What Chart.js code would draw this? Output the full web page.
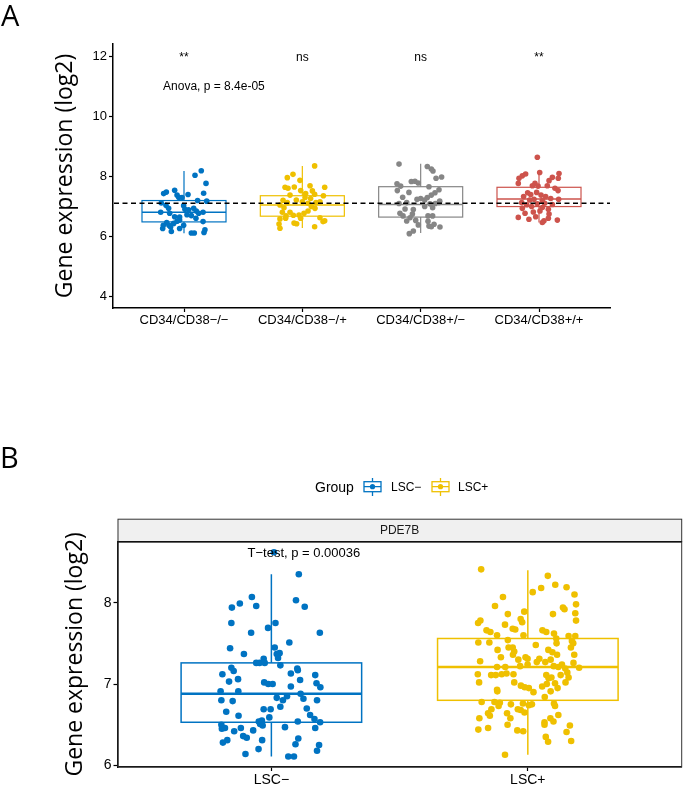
<!DOCTYPE html>
<html><head><meta charset="utf-8">
<script src="https://cdn.jsdelivr.net/npm/chart.js@4.4.1/dist/chart.umd.min.js"></script>
<style>
html,body{margin:0;padding:0;background:#fff;width:685px;height:785px;overflow:hidden}
#ca{position:absolute;left:0;top:0}
#cb{position:absolute;left:0;top:440px}
</style></head><body>
<canvas id="ca" width="685" height="330"></canvas>
<canvas id="cb" width="685" height="345"></canvas>
<script>
// ---------- Panel A data ----------
const categoriesA = ["CD34/CD38\u2212/\u2212","CD34/CD38\u2212/+","CD34/CD38+/\u2212","CD34/CD38+/+"];
const yTicksA = [4,6,8,10,12];
const whiskerLowA = [6.11, 6.29, 6.12, 6.47];
const q1A        = [6.49, 6.68, 6.65, 7.00];
const medianA    = [6.81, 7.05, 7.07, 7.25];
const q3A        = [7.20, 7.36, 7.66, 7.64];
const whiskerHighA = [8.18, 8.35, 8.42, 8.18];
const signifA = ["**","ns","ns","**"];
const anovaText = "Anova, p = 8.4e-05";
const refLineA = 7.11;
// points: [jitter offset (category units), value]
const pointsA1 = [[0.146,8.19],[0.093,8.04],[0.186,7.77],[-0.149,7.48],[-0.172,7.43],[-0.079,7.54],[-0.059,7.38],[-0.045,7.31],[-0.017,7.30],[0.034,7.40],[0.166,7.44],[0.115,7.20],[0.192,7.18],[-0.192,7.12],[-0.152,7.04],[-0.130,6.94],[-0.121,6.78],[-0.197,6.81],[-0.003,7.03],[0.008,6.91],[0.039,6.89],[0.082,6.94],[0.104,6.85],[0.124,6.78],[0.161,6.81],[0.025,6.73],[0.062,6.70],[0.101,6.61],[-0.079,6.66],[-0.037,6.65],[0.161,6.50],[-0.146,6.47],[-0.175,6.38],[-0.127,6.38],[-0.087,6.44],[-0.059,6.51],[-0.180,6.27],[-0.113,6.32],[-0.037,6.55],[-0.107,6.17],[-0.037,6.27],[0.062,6.12],[0.087,6.12],[0.177,6.23],[0.169,6.14],[-0.003,6.38]];
const pointsA2 = [[0.104,8.35],[-0.079,8.07],[-0.127,7.96],[-0.020,7.87],[0.065,7.69],[0.189,7.64],[-0.146,7.64],[-0.121,7.61],[-0.068,7.65],[0.085,7.52],[-0.104,7.38],[0.028,7.43],[-0.014,7.53],[0.104,7.41],[0.070,7.27],[0.178,7.36],[-0.163,7.21],[-0.189,7.05],[-0.127,7.13],[-0.051,7.22],[0.000,7.16],[0.023,7.30],[0.048,7.11],[0.115,7.13],[0.149,7.16],[0.076,7.00],[0.107,6.94],[-0.155,6.96],[-0.169,6.81],[-0.104,6.81],[-0.028,6.72],[0.014,6.78],[0.048,6.85],[-0.138,6.69],[-0.076,6.71],[-0.189,6.59],[-0.141,6.61],[-0.197,6.42],[-0.189,6.28],[-0.070,6.45],[-0.048,6.43],[0.149,6.63],[0.189,6.53],[0.175,6.50],[0.104,6.33],[-0.014,6.61]];
const pointsA3 = [[-0.183,8.41],[0.056,8.33],[0.090,8.25],[0.104,8.18],[0.177,7.98],[0.130,7.94],[-0.079,7.83],[-0.048,7.84],[-0.020,7.78],[-0.200,7.76],[-0.169,7.68],[0.070,7.66],[0.155,7.56],[-0.197,7.53],[-0.099,7.47],[0.121,7.46],[0.090,7.38],[0.056,7.30],[-0.152,7.31],[-0.031,7.24],[0.000,7.27],[0.034,7.22],[0.161,7.18],[-0.183,7.10],[-0.118,7.13],[0.079,7.09],[0.124,7.10],[0.155,7.13],[0.034,7.00],[0.101,6.96],[-0.132,6.92],[-0.062,6.90],[-0.175,6.78],[-0.149,6.69],[-0.070,6.75],[-0.090,6.63],[0.062,6.69],[0.101,6.69],[-0.118,6.52],[-0.042,6.54],[-0.020,6.39],[0.062,6.51],[0.070,6.35],[0.113,6.41],[0.163,6.32],[-0.062,6.19],[-0.096,6.10],[0.090,6.33]];
const pointsA4 = [[-0.014,8.64],[0.006,8.13],[-0.113,8.08],[-0.141,8.02],[-0.169,7.94],[0.169,8.10],[0.113,7.97],[0.163,7.94],[0.085,7.86],[-0.175,7.77],[-0.034,7.77],[-0.056,7.69],[0.070,7.69],[-0.008,7.68],[0.135,7.61],[0.161,7.53],[-0.096,7.46],[-0.070,7.40],[-0.020,7.47],[0.017,7.38],[-0.130,7.33],[0.056,7.33],[0.099,7.27],[0.166,7.24],[-0.079,7.22],[-0.042,7.24],[0.028,7.20],[-0.146,7.13],[-0.104,7.06],[-0.014,7.09],[0.048,7.11],[0.113,7.07],[-0.141,6.94],[-0.062,7.00],[0.028,6.97],[0.079,6.91],[-0.118,6.78],[-0.048,6.82],[0.008,6.85],[0.085,6.75],[-0.175,6.64],[-0.085,6.58],[-0.028,6.66],[0.042,6.53],[0.028,6.47],[0.155,6.55],[0.079,6.61]];

// ---------- Panel B data ----------
const categoriesB = ["LSC\u2212","LSC+"];
const yTicksB = [6,7,8];
const whiskerLowB = [6.11, 6.13];
const q1B        = [6.53, 6.80];
const medianB    = [6.88, 7.21];
const q3B        = [7.26, 7.56];
const whiskerHighB = [8.35, 8.40];
const stripLabel = "PDE7B";
const ttestText = "T\u2212test, p = 0.00036";
const legendTitle = "Group";
const pointsB1 = [[0.107,8.35],[0.010,8.62],[-0.076,8.07],[-0.123,7.99],[-0.154,7.94],[-0.059,7.96],[0.096,8.03],[0.130,7.95],[-0.156,7.75],[-0.013,7.69],[0.016,7.75],[-0.079,7.63],[0.189,7.63],[-0.161,7.44],[0.013,7.45],[0.070,7.51],[-0.107,7.37],[0.021,7.37],[0.032,7.38],[0.026,7.32],[-0.030,7.31],[-0.059,7.26],[-0.046,7.26],[-0.026,7.26],[0.035,7.23],[-0.156,7.20],[-0.147,7.16],[-0.191,7.12],[-0.130,7.06],[-0.165,7.03],[0.101,7.19],[0.103,7.17],[0.076,7.13],[0.171,7.11],[0.112,7.05],[-0.028,7.02],[-0.012,7.00],[0.005,7.00],[0.076,6.97],[0.176,7.01],[0.191,6.96],[-0.198,6.91],[-0.129,6.91],[-0.195,6.80],[-0.151,6.79],[0.021,6.83],[0.061,6.85],[0.114,6.88],[0.125,6.82],[0.045,6.80],[0.178,6.80],[0.035,6.72],[-0.176,6.66],[-0.128,6.61],[-0.030,6.69],[-0.003,6.69],[0.138,6.70],[0.151,6.62],[0.168,6.57],[-0.008,6.59],[-0.049,6.54],[-0.037,6.55],[-0.044,6.51],[0.103,6.54],[0.190,6.53],[-0.195,6.50],[-0.193,6.45],[-0.181,6.46],[-0.145,6.42],[-0.119,6.46],[-0.071,6.43],[-0.034,6.49],[0.053,6.47],[0.171,6.46],[-0.110,6.36],[-0.096,6.34],[-0.036,6.31],[0.105,6.33],[-0.189,6.28],[-0.172,6.31],[0.094,6.26],[0.186,6.25],[-0.050,6.20],[0.178,6.18],[-0.101,6.14],[0.066,6.11],[0.088,6.11]];
const pointsB2 = [[-0.182,8.41],[0.078,8.33],[0.107,8.22],[0.151,8.19],[0.052,8.18],[0.019,8.13],[0.182,8.10],[-0.097,8.07],[0.188,7.98],[-0.128,7.96],[0.137,7.94],[0.143,7.92],[0.185,7.87],[-0.014,7.89],[-0.078,7.86],[0.098,7.86],[0.188,7.78],[-0.185,7.78],[-0.194,7.75],[-0.028,7.80],[-0.022,7.76],[-0.089,7.73],[-0.059,7.68],[-0.049,7.67],[-0.161,7.66],[-0.146,7.64],[0.057,7.66],[0.072,7.64],[0.102,7.62],[-0.120,7.60],[-0.017,7.60],[0.159,7.59],[0.185,7.59],[0.111,7.56],[-0.078,7.54],[-0.193,7.51],[-0.150,7.51],[0.172,7.53],[0.177,7.50],[0.112,7.50],[0.031,7.48],[-0.075,7.45],[-0.059,7.45],[0.168,7.45],[-0.118,7.42],[-0.053,7.40],[0.080,7.42],[0.096,7.39],[0.114,7.36],[-0.058,7.36],[0.181,7.36],[-0.105,7.33],[-0.009,7.33],[-0.037,7.30],[-0.001,7.31],[0.045,7.31],[0.089,7.30],[-0.186,7.28],[0.035,7.27],[0.068,7.27],[0.133,7.24],[-0.001,7.24],[0.178,7.26],[-0.030,7.22],[-0.120,7.21],[-0.088,7.21],[0.101,7.22],[0.119,7.21],[0.146,7.19],[0.200,7.20],[0.154,7.14],[-0.195,7.12],[-0.143,7.11],[-0.125,7.11],[-0.102,7.12],[-0.083,7.13],[-0.056,7.12],[0.128,7.11],[0.072,7.11],[0.081,7.07],[0.092,7.08],[0.159,7.08],[-0.190,7.02],[-0.053,7.02],[-0.027,6.98],[-0.012,6.96],[0.004,6.95],[0.056,6.97],[0.074,7.00],[0.106,7.01],[0.147,7.02],[-0.120,6.93],[-0.119,6.91],[0.022,6.90],[0.089,6.91],[0.116,6.95],[0.066,6.84],[-0.180,6.78],[-0.130,6.78],[-0.109,6.77],[-0.114,6.73],[-0.066,6.75],[-0.019,6.76],[0.004,6.74],[0.016,6.75],[0.102,6.76],[0.106,6.73],[-0.039,6.69],[-0.142,6.69],[-0.155,6.64],[-0.148,6.61],[-0.081,6.64],[-0.028,6.68],[-0.013,6.65],[-0.068,6.58],[0.119,6.62],[0.088,6.58],[0.100,6.54],[-0.189,6.58],[0.065,6.53],[0.065,6.50],[-0.079,6.50],[0.164,6.49],[-0.193,6.44],[-0.155,6.46],[-0.041,6.43],[-0.018,6.42],[0.151,6.41],[0.070,6.35],[0.079,6.29],[0.169,6.30],[-0.089,6.13]];

// ---------- styles ----------
const colorsA = ['#0073C2','#EFC000','#868686','#CD534C'];
const colorsB = ['#0073C2','#EFC000'];
const tickFont = {family:'Liberation Sans, Arial, sans-serif', size:13};
const titleFont = {family:'Open Sans, sans-serif', size:23};

const boxPlugin = {
  id:'boxes',
  beforeDatasetsDraw(chart, args, o){
    const {ctx, scales:{x,y}} = chart;
    ctx.save();
    o.median.forEach((m,i)=>{
      const c = i+1;
      const cx = x.getPixelForValue(c);
      const x0 = x.getPixelForValue(c-o.half), x1 = x.getPixelForValue(c+o.half);
      const yq1 = y.getPixelForValue(o.q1[i]), yq3 = y.getPixelForValue(o.q3[i]);
      ctx.strokeStyle = o.colors[i];
      ctx.lineWidth = o.lw;
      ctx.strokeRect(x0, yq3, x1-x0, yq1-yq3);
      ctx.beginPath();
      ctx.moveTo(cx, yq3); ctx.lineTo(cx, y.getPixelForValue(o.hi[i]));
      ctx.moveTo(cx, yq1); ctx.lineTo(cx, y.getPixelForValue(o.lo[i]));
      ctx.stroke();
      ctx.lineWidth = o.mlw;
      const ym = y.getPixelForValue(m);
      ctx.beginPath(); ctx.moveTo(x0, ym); ctx.lineTo(x1, ym); ctx.stroke();
    });
    ctx.restore();
  }
};

const annotA = {
  id:'annotA',
  afterDatasetsDraw(chart){
    const {ctx, chartArea:ca, scales:{x,y}} = chart;
    ctx.save();
    const yr = y.getPixelForValue(refLineA);
    ctx.strokeStyle = '#000'; ctx.lineWidth = 1.5; ctx.setLineDash([5,3.5]);
    ctx.beginPath(); ctx.moveTo(ca.left+1, yr); ctx.lineTo(ca.right, yr); ctx.stroke();
    ctx.setLineDash([]);
    ctx.fillStyle = '#000';
    ctx.font = '12px "Liberation Sans", Arial, sans-serif';
    ctx.textAlign = 'center'; ctx.textBaseline = 'alphabetic';
    signifA.forEach((s,i)=>{
      ctx.fillText(s, x.getPixelForValue(i+1), y.getPixelForValue(11.84));
    });
    ctx.textAlign = 'left';
    ctx.fillText(anovaText, x.getPixelForValue(0.823), y.getPixelForValue(10.86));
    ctx.restore();
  },
  afterDraw(chart){
    const ctx = chart.ctx;
    ctx.save();
    ctx.fillStyle = '#000';
    ctx.font = '29px "Open Sans", sans-serif';
    ctx.textAlign = 'left'; ctx.textBaseline = 'alphabetic';
    ctx.fillText('A', 1, 26);
    ctx.restore();
  }
};

const annotB = {
  id:'annotB',
  beforeDraw(chart){
    const {ctx, chartArea:ca} = chart;
    ctx.save();
    ctx.fillStyle = '#F0F0F0';
    ctx.fillRect(ca.left, ca.top-22.5, ca.right-ca.left, 22.5);
    ctx.restore();
  },
  afterDatasetsDraw(chart){
    const {ctx, chartArea:ca, scales:{x,y}} = chart;
    ctx.save();
    ctx.strokeStyle = '#333'; ctx.lineWidth = 1;
    ctx.strokeRect(ca.left+0.5, ca.top-22.5, ca.right-ca.left-0.5, 22.5);
    ctx.strokeRect(ca.left+0.5, ca.top, ca.right-ca.left-0.5, ca.bottom-ca.top);
    ctx.strokeStyle = '#111'; ctx.lineWidth = 1.5;
    ctx.beginPath(); ctx.moveTo(ca.left, ca.top); ctx.lineTo(ca.right, ca.top); ctx.stroke();
    ctx.fillStyle = '#1A1A1A';
    ctx.font = '12px "Liberation Sans", Arial, sans-serif';
    ctx.textAlign = 'center'; ctx.textBaseline = 'middle';
    ctx.fillText(stripLabel, (ca.left+ca.right)/2, ca.top-11);
    ctx.fillStyle = '#000';
    ctx.font = '13px "Liberation Sans", Arial, sans-serif';
    ctx.textAlign = 'left'; ctx.textBaseline = 'alphabetic';
    ctx.fillText(ttestText, x.getPixelForValue(0.907), y.getPixelForValue(8.565));
    ctx.restore();
  },
  afterDraw(chart){
    const ctx = chart.ctx;
    ctx.save();
    ctx.fillStyle = '#000';
    ctx.font = '29px "Open Sans", sans-serif';
    ctx.textAlign = 'left'; ctx.textBaseline = 'alphabetic';
    ctx.fillText('B', 0, 28);
    ctx.font = '14px "Liberation Sans", Arial, sans-serif';
    ctx.fillText(legendTitle, 315, 51.5);
    const icon = (cx, col) => {
      ctx.strokeStyle = col; ctx.lineWidth = 1.3;
      ctx.strokeRect(cx-8.5, 41.7, 17, 10);
      ctx.beginPath();
      ctx.moveTo(cx-8.5, 46.7); ctx.lineTo(cx+8.5, 46.7);
      ctx.moveTo(cx, 38); ctx.lineTo(cx, 41.7);
      ctx.moveTo(cx, 51.7); ctx.lineTo(cx, 56);
      ctx.stroke();
      ctx.fillStyle = col;
      ctx.beginPath(); ctx.arc(cx, 46.7, 2.6, 0, Math.PI*2); ctx.fill();
    };
    icon(372.5, colorsB[0]);
    icon(440.5, colorsB[1]);
    ctx.fillStyle = '#000';
    ctx.font = '12px "Liberation Sans", Arial, sans-serif';
    ctx.fillText(categoriesB[0], 391, 51);
    ctx.fillText(categoriesB[1], 458, 51);
    ctx.restore();
  }
};

function axisCommon(){
  return {
    grid:{display:true, drawOnChartArea:false, drawTicks:true, tickLength:4, color:'#000', tickColor:'#000', tickWidth:1.2},
    border:{display:true, color:'#000', width:1.5}
  };
}

new Chart(document.getElementById('ca'), {
  type:'scatter',
  data:{datasets:[pointsA1,pointsA2,pointsA3,pointsA4].map((pts,i)=>({
    label:categoriesA[i],
    data:pts.map(p=>({x:i+1+p[0], y:p[1]})),
    backgroundColor:colorsA[i], borderWidth:0, pointRadius:2.8, pointHoverRadius:2.8
  }))},
  options:{
    responsive:false, animation:false, events:[],
    layout:{padding:{left:0, top:44, right:75, bottom:0}},
    plugins:{
      legend:{display:false}, tooltip:{enabled:false},
      boxes:{lo:whiskerLowA, q1:q1A, median:medianA, q3:q3A, hi:whiskerHighA, colors:colorsA, half:0.355, lw:1.2, mlw:1.6}
    },
    scales:{
      x:Object.assign(axisCommon(), {
        type:'linear', min:0.4, max:4.6,
        afterBuildTicks:s=>{s.ticks = categoriesA.map((c,i)=>({value:i+1}));},
        afterFit:s=>{s.height = 22;},
        ticks:{callback:v=>categoriesA[Math.round(v)-1], font:tickFont, color:'#000', padding:1, maxRotation:0, autoSkip:false}
      }),
      y:Object.assign(axisCommon(), {
        min:3.63, max:12.4,
        afterBuildTicks:s=>{s.ticks = yTicksA.map(v=>({value:v}));},
        afterFit:s=>{s.width = 113;},
        ticks:{font:tickFont, color:'#000', padding:2},
        title:{display:true, text:'Gene expression (log2)', font:titleFont, color:'#000', padding:{top:52, bottom:0}}
      })
    }
  },
  plugins:[boxPlugin, annotA]
});

new Chart(document.getElementById('cb'), {
  type:'scatter',
  data:{datasets:[pointsB1,pointsB2].map((pts,i)=>({
    label:categoriesB[i],
    data:pts.map(p=>({x:i+1+p[0], y:p[1]})),
    backgroundColor:colorsB[i], borderWidth:0, pointRadius:3.3, pointHoverRadius:3.3
  }))},
  options:{
    responsive:false, animation:false, events:[],
    layout:{padding:{left:0, top:101.7, right:1, bottom:0}},
    plugins:{
      legend:{display:false}, tooltip:{enabled:false},
      boxes:{lo:whiskerLowB, q1:q1B, median:medianB, q3:q3B, hi:whiskerHighB, colors:colorsB, half:0.352, lw:1.5, mlw:2.5}
    },
    scales:{
      x:Object.assign(axisCommon(), {
        type:'linear', min:0.4, max:2.6,
        afterBuildTicks:s=>{s.ticks = categoriesB.map((c,i)=>({value:i+1}));},
        afterFit:s=>{s.height = 18;},
        ticks:{callback:v=>categoriesB[Math.round(v)-1], font:{family:tickFont.family, size:14}, color:'#000', padding:1, maxRotation:0, autoSkip:false}
      }),
      y:Object.assign(axisCommon(), {
        min:5.98, max:8.75,
        afterBuildTicks:s=>{s.ticks = yTicksB.map(v=>({value:v}));},
        afterFit:s=>{s.width = 117.5;},
        ticks:{font:{family:tickFont.family, size:14}, color:'#000', padding:2},
        title:{display:true, text:'Gene expression (log2)', font:titleFont, color:'#000', padding:{top:62, bottom:0}}
      })
    }
  },
  plugins:[boxPlugin, annotB]
});
</script>
</body></html>
